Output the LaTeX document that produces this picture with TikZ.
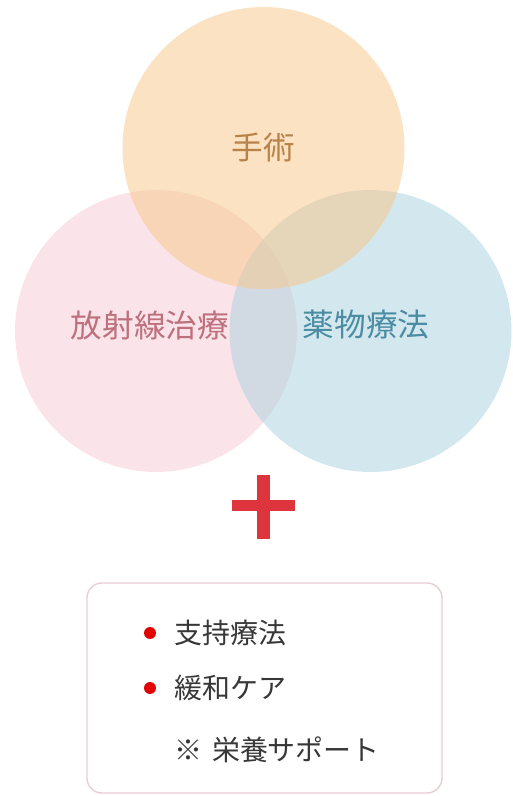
\documentclass[tikz,border=0pt]{standalone}
\usepackage{fontspec}
\setmainfont{Noto Sans CJK JP}
\usetikzlibrary{positioning}

\definecolor{surgfill}{RGB}{247,198,136}
\definecolor{radfill}{RGB}{247,202,211}
\definecolor{drugfill}{RGB}{168,208,222}
\definecolor{surgtext}{RGB}{184,130,72}
\definecolor{radtext}{RGB}{190,112,126}
\definecolor{drugtext}{RGB}{74,140,162}
\definecolor{plusred}{RGB}{222,52,62}
\definecolor{boxline}{RGB}{234,204,210}
\definecolor{itemtext}{RGB}{55,55,55}

\tikzset{
	venn/.style={fill=#1, fill opacity=0.5, draw=none},
	venntext/.style={font=\fontsize{18}{18}\selectfont, text=#1, inner sep=0pt},
	itemtext/.style={font=\fontsize{15.9}{16}\selectfont, text=itemtext, inner sep=0pt, anchor=west},
	itemdot/.style={fill=red!90!black, draw=none}
}

\begin{document}
\begin{tikzpicture}
		%%%%% START %%%%%
		\useasboundingbox (0, 0) rectangle (10.26, 15.92);
		
		% three circles
		\fill[venn=radfill] (3.12, 9.30) circle (2.82);
		\fill[venn=drugfill] (7.41, 9.30) circle (2.82);
		\fill[venn=surgfill] (5.27, 12.96) circle (2.82);
		
		\node[venntext=surgtext] (surgery) at (5.27, 12.98) {手術};
		\node[venntext=radtext] (radiation) at (3.00, 9.42) {放射線治療};
		\node[venntext=drugtext] (drug) at (7.32, 9.42) {薬物療法};
		
		% plus sign
		\fill[plusred] (5.14, 5.14) rectangle (5.40, 6.42);
		\fill[plusred] (4.64, 5.69) rectangle (5.90, 5.91);
		
		% box with items
		\draw[boxline, line width=0.8pt, rounded corners=0.3cm] (1.74, 0.06) rectangle (8.84, 4.26);
		
		\fill[itemdot] (3.00, 3.26) circle (0.12);
		\node[itemtext] (support) at (3.48, 3.26) {支持療法};
		\fill[itemdot] (3.00, 2.16) circle (0.12);
		\node[itemtext] (palliative) at (3.48, 2.16) {緩和ケア};
		\node[itemtext] (nutrition) at (3.48, 0.92) {※\hspace{0.35em}栄養サポート};
		%%%%% END %%%%%
	\end{tikzpicture}
\end{document}
